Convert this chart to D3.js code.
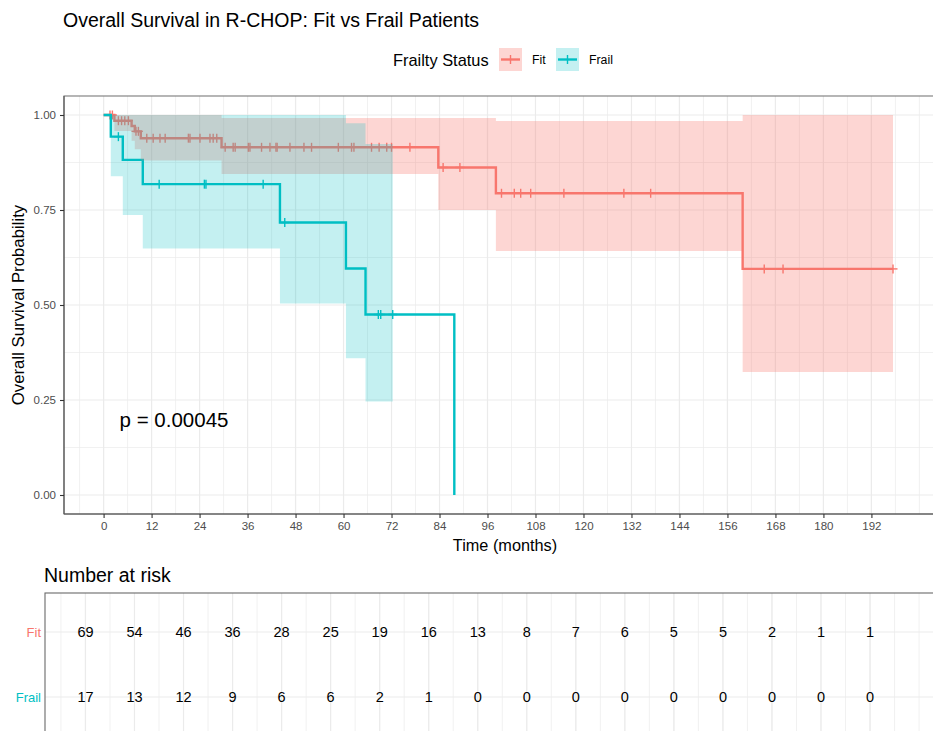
<!DOCTYPE html>
<html><head><meta charset="utf-8">
<script src="https://cdn.jsdelivr.net/npm/d3@7"></script>
<style>
body{margin:0;background:#fff}
svg{display:block}
text{font-family:"Liberation Sans",Arial,Helvetica,sans-serif}
</style>
</head><body>
<svg id="chart" width="933" height="731"></svg>
<script>
// ---------------- data ----------------
const groups = ["Fit", "Frail"];
const groupColors = ["#F8766D", "#00BFC4"];
const bandAlpha = [0.3, 0.23];

// Fit: Kaplan-Meier steps
const fitTime  = [0, 2.7, 7.0, 7.8, 9.3, 29.5, 83.7, 98.1, 159.8];
const fitSurv  = [1, 0.985, 0.971, 0.957, 0.939, 0.915, 0.862, 0.794, 0.595];
const fitLower = [1, 0.958, 0.932, 0.910, 0.880, 0.845, 0.750, 0.642, 0.324];
const fitUpper = [1, 1.0, 1.0, 1.0, 1.0, 0.992, 0.992, 0.984, 1.0];
const fitEnd = 197.4;
const fitCensor = [1.6, 2.2, 3.7, 4.5, 5.3, 6.2, 8.1, 8.7, 10.8, 12.4, 14.1, 15.4,
  21.2, 21.6, 24.1, 26.6, 27.4, 28.3, 30.4, 32.4, 32.9, 36.2, 36.6, 39.5, 41.6,
  43.1, 43.4, 46.6, 50.1, 52.0, 58.7, 62.0, 62.6, 67.0, 68.9, 70.8, 72.0, 76.6,
  84.9, 89.1, 99.5, 102.7, 104.3, 106.8, 115.1, 130.1, 136.8, 165.2, 169.9, 197.4];

// Frail: Kaplan-Meier steps
const frailTime  = [0, 1.8, 4.8, 9.8, 44.1, 60.6, 65.5, 87.7];
const frailSurv  = [1, 0.943, 0.882, 0.818, 0.717, 0.596, 0.475, 0];
const frailLower = [1, 0.839, 0.737, 0.649, 0.504, 0.360, 0.246];
const frailUpper = [1, 1.0, 1.0, 1.0, 1.0, 0.978, 0.924];
const frailBandEnd = 72.3;
const frailCensor = [3.7, 13.9, 25.2, 25.6, 39.9, 45.3, 68.7, 69.3, 72.3];

// axis ticks
const timeBreaks = [0, 12, 24, 36, 48, 60, 72, 84, 96, 108, 120, 132, 144, 156, 168, 180, 192];
const survBreaks = [0, 0.25, 0.5, 0.75, 1.0];
const survLabels = ["0.00", "0.25", "0.50", "0.75", "1.00"];

// number at risk table
const riskFit   = [69, 54, 46, 36, 28, 25, 19, 16, 13, 8, 7, 6, 5, 5, 2, 1, 1];
const riskFrail = [17, 13, 12, 9, 6, 6, 2, 1, 0, 0, 0, 0, 0, 0, 0, 0, 0];

const pValueText = "p = 0.00045";
const pValuePos = [4, 0.2];

// ---------------- layout ----------------
const svg = d3.select("#chart");
const xDomain = [-9.9, 207.9];
const P = {left: 64, right: 935, top: 96, bottom: 514};
const T = {left: 45, right: 935, top: 593, bottom: 736};

const x = d3.scaleLinear().domain(xDomain).range([P.left, P.right]);
const y = d3.scaleLinear().domain([-0.05, 1.05]).range([P.bottom, P.top]);
const xt = d3.scaleLinear().domain(xDomain).range([T.left, T.right]);
const yt = d3.scalePoint().domain(groups).range([T.top, T.bottom]).padding(0.6);

const gridCol = "#EBEBEB";
const minorTime = d3.range(-6, 205, 6).filter(v => v > xDomain[0] && v < xDomain[1]);
const minorSurv = [0.125, 0.375, 0.625, 0.875];

const defs = svg.append("defs");
defs.append("clipPath").attr("id", "pclip").append("rect")
  .attr("x", P.left).attr("y", P.top).attr("width", P.right - P.left).attr("height", P.bottom - P.top);
defs.append("clipPath").attr("id", "tclip").append("rect")
  .attr("x", T.left).attr("y", T.top).attr("width", T.right - T.left).attr("height", T.bottom - T.top);

// ---------------- main panel ----------------
const gp = svg.append("g").attr("clip-path", "url(#pclip)");
gp.selectAll(".mnx").data(minorTime).join("line")
  .attr("x1", d => x(d)).attr("x2", d => x(d)).attr("y1", P.top).attr("y2", P.bottom)
  .attr("stroke", gridCol).attr("stroke-width", 0.7);
gp.selectAll(".mny").data(minorSurv).join("line")
  .attr("x1", P.left).attr("x2", P.right).attr("y1", d => y(d)).attr("y2", d => y(d))
  .attr("stroke", gridCol).attr("stroke-width", 0.7);
gp.selectAll(".mjx").data(timeBreaks).join("line")
  .attr("x1", d => x(d)).attr("x2", d => x(d)).attr("y1", P.top).attr("y2", P.bottom)
  .attr("stroke", gridCol).attr("stroke-width", 1.2);
gp.selectAll(".mjy").data(survBreaks).join("line")
  .attr("x1", P.left).attr("x2", P.right).attr("y1", d => y(d)).attr("y2", d => y(d))
  .attr("stroke", gridCol).attr("stroke-width", 1.2);

function stepPoints(times, surv, end) {
  const pts = times.map((t, i) => [t, surv[i]]);
  if (end > times[times.length - 1]) pts.push([end, surv[surv.length - 1]]);
  return pts;
}
function survAt(times, surv, t) {
  const i = d3.bisectRight(times, t) - 1;
  return surv[Math.max(0, i)];
}
const line = d3.line().x(d => x(d[0])).y(d => y(d[1])).curve(d3.curveStepAfter);
const area = d3.area().x(d => x(d[0])).y0(d => y(d[1])).y1(d => y(d[2])).curve(d3.curveStepAfter);

const curves = [
  {time: fitTime, surv: fitSurv, lower: fitLower, upper: fitUpper, end: fitEnd, bandEnd: fitEnd, censor: fitCensor, col: groupColors[0], alpha: bandAlpha[0]},
  {time: frailTime, surv: frailSurv, lower: frailLower, upper: frailUpper, end: frailTime[frailTime.length - 1], bandEnd: frailBandEnd, censor: frailCensor, col: groupColors[1], alpha: bandAlpha[1]}
];

const lw = 2.4;
curves.forEach(c => {
  gp.append("path").attr("d", line(stepPoints(c.time, c.surv, c.end)))
    .attr("fill", "none").attr("stroke", c.col).attr("stroke-width", lw).attr("stroke-linejoin", "miter");
  const cg = gp.append("g");
  c.censor.forEach(t => {
    const cx = x(t), cy = y(survAt(c.time, c.surv, t));
    cg.append("line").attr("x1", cx).attr("x2", cx).attr("y1", cy - 4.5).attr("y2", cy + 4.5)
      .attr("stroke", c.col).attr("stroke-width", 1.4);
    cg.append("line").attr("x1", cx - 4.5).attr("x2", cx + 4.5).attr("y1", cy).attr("y2", cy)
      .attr("stroke", c.col).attr("stroke-width", 1.4);
  });
});
// confidence ribbons drawn on top, translucent
curves.forEach(c => {
  const pts = [];
  for (let i = 1; i < c.lower.length; i++) pts.push([c.time[i], c.lower[i], c.upper[i]]);
  pts.push([c.bandEnd, c.lower[c.lower.length - 1], c.upper[c.upper.length - 1]]);
  gp.append("path").attr("d", area(pts)).attr("fill", c.col).attr("fill-opacity", c.alpha).attr("stroke", "none");
});

// p-value
svg.append("text").attr("x", x(pValuePos[0])).attr("y", y(pValuePos[1]))
  .attr("dominant-baseline", "central").attr("font-size", 20.5).attr("fill", "#000").text(pValueText);

// panel border
svg.append("rect").attr("x", P.left).attr("y", P.top).attr("width", P.right - P.left).attr("height", P.bottom - P.top)
  .attr("fill", "none").attr("stroke", "#7a7a7a").attr("stroke-width", 1.1);
svg.append("line").attr("x1", P.left).attr("x2", P.right).attr("y1", P.bottom).attr("y2", P.bottom)
  .attr("stroke", "#555").attr("stroke-width", 1.1);
svg.append("line").attr("x1", P.left).attr("x2", P.left).attr("y1", P.top).attr("y2", P.bottom)
  .attr("stroke", "#555").attr("stroke-width", 1.1);

// axes
const xAxis = svg.append("g").attr("transform", `translate(0,${P.bottom})`)
  .call(d3.axisBottom(x).tickValues(timeBreaks).tickSize(4).tickPadding(4).tickFormat(d3.format("d")));
xAxis.select(".domain").remove();
xAxis.selectAll(".tick line").attr("stroke", "#333").attr("stroke-width", 1.1);
xAxis.selectAll(".tick text").attr("fill", "#4D4D4D").attr("font-size", 11.5)
  .attr("font-family", "Liberation Sans, Arial, sans-serif");

const yAxis = svg.append("g").attr("transform", `translate(${P.left},0)`)
  .call(d3.axisLeft(y).tickValues(survBreaks).tickSize(4).tickPadding(4).tickFormat((d, i) => survLabels[i]));
yAxis.select(".domain").remove();
yAxis.selectAll(".tick line").attr("stroke", "#333").attr("stroke-width", 1.1);
yAxis.selectAll(".tick text").attr("fill", "#4D4D4D").attr("font-size", 11.5)
  .attr("font-family", "Liberation Sans, Arial, sans-serif");

// axis titles
svg.append("text").attr("x", 505).attr("y", 545).attr("text-anchor", "middle")
  .attr("dominant-baseline", "central").attr("font-size", 16.3).attr("fill", "#000").text("Time (months)");
svg.append("text").attr("transform", `translate(18,${(P.top + P.bottom) / 2}) rotate(-90)`)
  .attr("text-anchor", "middle").attr("dominant-baseline", "central").attr("font-size", 16.8)
  .attr("fill", "#000").text("Overall Survival Probability");

// title
svg.append("text").attr("x", 63).attr("y", 27).attr("font-size", 19.5).attr("fill", "#000")
  .text("Overall Survival in R-CHOP: Fit vs Frail Patients");

// legend
svg.append("text").attr("x", 393).attr("y", 60).attr("dominant-baseline", "central")
  .attr("font-size", 16.4).attr("fill", "#000").text("Frailty Status");
const legX = [499, 556];
groups.forEach((g, i) => {
  const lx = legX[i], ly = 48, s = 23;
  svg.append("rect").attr("x", lx).attr("y", ly).attr("width", s).attr("height", s)
    .attr("fill", groupColors[i]).attr("fill-opacity", bandAlpha[i]);
  svg.append("line").attr("x1", lx + 2).attr("x2", lx + s - 2).attr("y1", ly + s / 2).attr("y2", ly + s / 2)
    .attr("stroke", groupColors[i]).attr("stroke-width", lw);
  svg.append("line").attr("x1", lx + s / 2).attr("x2", lx + s / 2).attr("y1", ly + s / 2 - 4.5).attr("y2", ly + s / 2 + 4.5)
    .attr("stroke", groupColors[i]).attr("stroke-width", 1.4);
  svg.append("text").attr("x", lx + s + 10).attr("y", ly + s / 2).attr("dominant-baseline", "central")
    .attr("font-size", 12.3).attr("fill", "#000").text(g);
});

// ---------------- risk table ----------------
svg.append("text").attr("x", 44).attr("y", 582).attr("font-size", 19.5).attr("fill", "#000").text("Number at risk");

const gt = svg.append("g").attr("clip-path", "url(#tclip)");
gt.selectAll(".tmn").data(minorTime).join("line")
  .attr("x1", d => xt(d)).attr("x2", d => xt(d)).attr("y1", T.top).attr("y2", T.bottom)
  .attr("stroke", gridCol).attr("stroke-width", 0.7);
gt.selectAll(".tmj").data(timeBreaks).join("line")
  .attr("x1", d => xt(d)).attr("x2", d => xt(d)).attr("y1", T.top).attr("y2", T.bottom)
  .attr("stroke", gridCol).attr("stroke-width", 1.2);
gt.selectAll(".trow").data(groups).join("line")
  .attr("x1", T.left).attr("x2", T.right).attr("y1", d => yt(d)).attr("y2", d => yt(d))
  .attr("stroke", gridCol).attr("stroke-width", 1.2);

const riskRows = [riskFit, riskFrail];
groups.forEach((g, gi) => {
  gt.selectAll(".rk" + gi).data(riskRows[gi]).join("text")
    .attr("x", (d, i) => xt(timeBreaks[i])).attr("y", yt(g))
    .attr("text-anchor", "middle").attr("dominant-baseline", "central")
    .attr("font-size", 14.5).attr("fill", "#000").text(d => d);
});
svg.append("rect").attr("x", T.left).attr("y", T.top).attr("width", T.right - T.left).attr("height", T.bottom - T.top)
  .attr("fill", "none").attr("stroke", "#6a6a6a").attr("stroke-width", 1.1);

const tAxis = svg.append("g").attr("transform", `translate(${T.left},0)`)
  .call(d3.axisLeft(yt).tickSize(0).tickPadding(4));
tAxis.select(".domain").remove();
tAxis.selectAll(".tick text").attr("font-size", 13)
  .attr("font-family", "Liberation Sans, Arial, sans-serif")
  .attr("fill", (d, i) => groupColors[i]);
</script>
</body></html>
